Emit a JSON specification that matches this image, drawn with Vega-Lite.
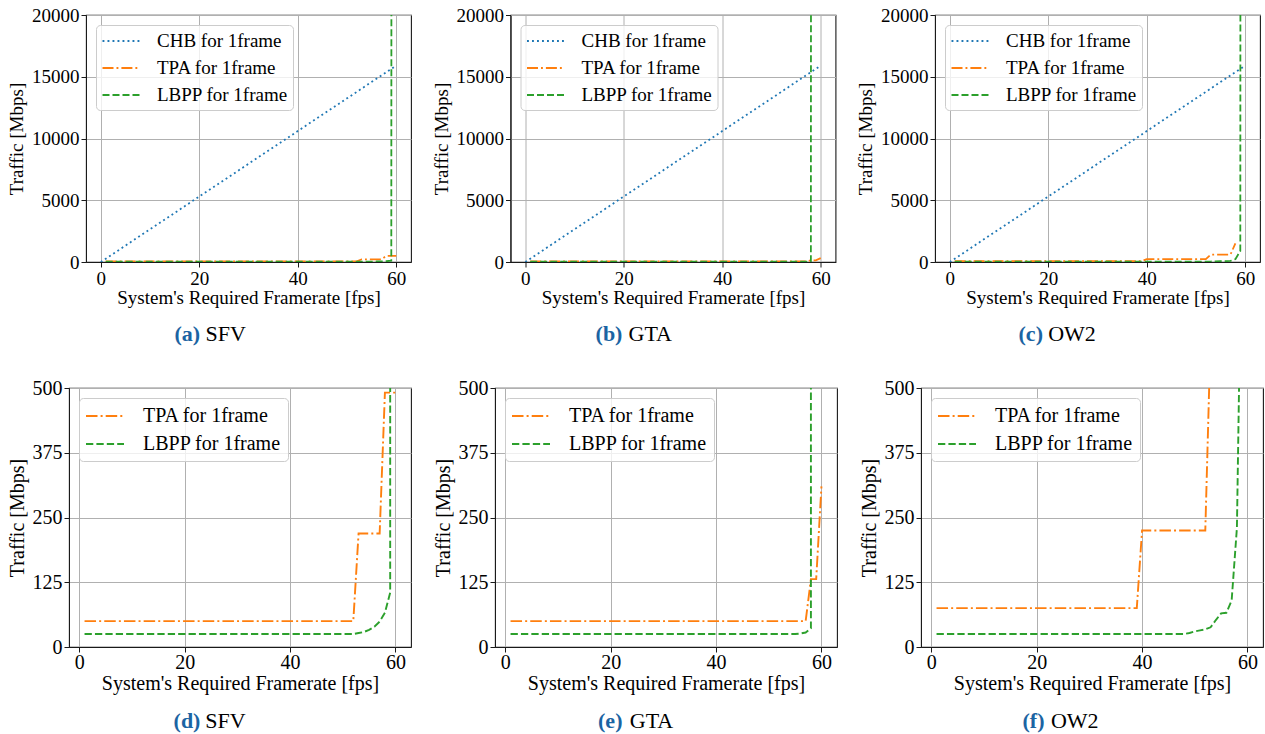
{
  "$schema": "https://vega.github.io/schema/vega-lite/v6.json",
  "background": "white",
  "padding": {"left": 6, "top": 5, "right": 0, "bottom": 0},
  "config": {
    "font": "Liberation Serif",
    "view": {"stroke": "#1a1a1a", "strokeWidth": 1.1},
    "axis": {"labelFont": "Liberation Serif", "titleFont": "Liberation Serif", "labelColor": "black", "titleColor": "black", "titleFontWeight": "normal", "gridColor": "#b0b0b0", "gridWidth": 1, "tickColor": "#1a1a1a", "tickSize": 5, "domainColor": "#1a1a1a", "labelPadding": 2, "labelFlush": false, "labelOverlap": false},
    "axisY": {"titlePadding": 5},
    "legend": {"labelFont": "Liberation Serif", "labelColor": "black", "fillColor": "rgba(255,255,255,0.8)", "strokeColor": "#cccccc", "cornerRadius": 4, "labelLimit": 300, "orient": "top-left", "offset": 10},
    "title": {"font": "Liberation Serif", "subtitleFont": "Liberation Serif", "fontSize": 22, "subtitleFontSize": 22, "fontWeight": "bold", "subtitleFontWeight": "normal", "color": "#1b64a3", "subtitleColor": "black", "subtitlePadding": -22, "orient": "bottom", "anchor": "middle", "frame": "bounds"}
  },
  "data": {"values": [
    {"game": "all", "series": "CHB", "fps": 0, "traffic": 0},
    {"game": "all", "series": "CHB", "fps": 10, "traffic": 2650},
    {"game": "all", "series": "CHB", "fps": 20, "traffic": 5300},
    {"game": "all", "series": "CHB", "fps": 30, "traffic": 7950},
    {"game": "all", "series": "CHB", "fps": 40, "traffic": 10600},
    {"game": "all", "series": "CHB", "fps": 50, "traffic": 13250},
    {"game": "all", "series": "CHB", "fps": 60, "traffic": 15900},
    {"game": "SFV", "series": "TPA", "fps": 1, "traffic": 50},
    {"game": "SFV", "series": "TPA", "fps": 52, "traffic": 50},
    {"game": "SFV", "series": "TPA", "fps": 53, "traffic": 219},
    {"game": "SFV", "series": "TPA", "fps": 57, "traffic": 219},
    {"game": "SFV", "series": "TPA", "fps": 58, "traffic": 491},
    {"game": "SFV", "series": "TPA", "fps": 59, "traffic": 491},
    {"game": "SFV", "series": "TPA", "fps": 60, "traffic": 491},
    {"game": "SFV", "series": "LBPP", "fps": 1, "traffic": 25},
    {"game": "SFV", "series": "LBPP", "fps": 52, "traffic": 25},
    {"game": "SFV", "series": "LBPP", "fps": 53, "traffic": 27},
    {"game": "SFV", "series": "LBPP", "fps": 54, "traffic": 29},
    {"game": "SFV", "series": "LBPP", "fps": 55, "traffic": 33},
    {"game": "SFV", "series": "LBPP", "fps": 56, "traffic": 39},
    {"game": "SFV", "series": "LBPP", "fps": 57, "traffic": 49},
    {"game": "SFV", "series": "LBPP", "fps": 58, "traffic": 66},
    {"game": "SFV", "series": "LBPP", "fps": 59, "traffic": 105},
    {"game": "SFV", "series": "LBPP", "fps": 60, "traffic": 1000000},
    {"game": "GTA", "series": "TPA", "fps": 1, "traffic": 50},
    {"game": "GTA", "series": "TPA", "fps": 57, "traffic": 50},
    {"game": "GTA", "series": "TPA", "fps": 58, "traffic": 131},
    {"game": "GTA", "series": "TPA", "fps": 59, "traffic": 131},
    {"game": "GTA", "series": "TPA", "fps": 60, "traffic": 310},
    {"game": "GTA", "series": "LBPP", "fps": 1, "traffic": 25},
    {"game": "GTA", "series": "LBPP", "fps": 55, "traffic": 25},
    {"game": "GTA", "series": "LBPP", "fps": 56, "traffic": 26},
    {"game": "GTA", "series": "LBPP", "fps": 57, "traffic": 28},
    {"game": "GTA", "series": "LBPP", "fps": 58, "traffic": 36},
    {"game": "GTA", "series": "LBPP", "fps": 59, "traffic": 1000000},
    {"game": "OW2", "series": "TPA", "fps": 1, "traffic": 75},
    {"game": "OW2", "series": "TPA", "fps": 39, "traffic": 75},
    {"game": "OW2", "series": "TPA", "fps": 40, "traffic": 225},
    {"game": "OW2", "series": "TPA", "fps": 52, "traffic": 225},
    {"game": "OW2", "series": "TPA", "fps": 53, "traffic": 600},
    {"game": "OW2", "series": "TPA", "fps": 57, "traffic": 600},
    {"game": "OW2", "series": "TPA", "fps": 58, "traffic": 1500},
    {"game": "OW2", "series": "LBPP", "fps": 1, "traffic": 25},
    {"game": "OW2", "series": "LBPP", "fps": 48, "traffic": 25},
    {"game": "OW2", "series": "LBPP", "fps": 49, "traffic": 27},
    {"game": "OW2", "series": "LBPP", "fps": 50, "traffic": 30},
    {"game": "OW2", "series": "LBPP", "fps": 51, "traffic": 32},
    {"game": "OW2", "series": "LBPP", "fps": 52, "traffic": 34},
    {"game": "OW2", "series": "LBPP", "fps": 53, "traffic": 38},
    {"game": "OW2", "series": "LBPP", "fps": 54, "traffic": 52},
    {"game": "OW2", "series": "LBPP", "fps": 55, "traffic": 65},
    {"game": "OW2", "series": "LBPP", "fps": 56, "traffic": 66},
    {"game": "OW2", "series": "LBPP", "fps": 57, "traffic": 90},
    {"game": "OW2", "series": "LBPP", "fps": 58, "traffic": 230},
    {"game": "OW2", "series": "LBPP", "fps": 59, "traffic": 900},
    {"game": "OW2", "series": "LBPP", "fps": 60, "traffic": 1000000}
  ]},
  "spacing": 31,
  "resolve": {"scale": {"color": "independent", "strokeDash": "independent"}},
  "vconcat": [
    {
      "spacing": -64,
      "resolve": {"scale": {"color": "independent", "strokeDash": "independent"}},
      "hconcat": [
        {
          "width": 1, "height": 1,
          "view": {"stroke": null},
          "mark": {"type": "rule", "opacity": 0},
          "encoding": {}
        },
        {
          "spacing": 18.5,
          "resolve": {"scale": {"color": "independent", "strokeDash": "independent"}},
          "hconcat": [
            {
              "width": 325, "height": 247,
              "transform": [{"filter": "datum.game == 'SFV' || datum.game == 'all'"}],
              "mark": {"type": "line", "clip": true, "strokeWidth": 1.8},
              "encoding": {
                "x": {"field": "fps", "type": "quantitative", "scale": {"domain": [-3, 63], "nice": false, "zero": false}, "axis": {"values": [0, 20, 40, 60], "title": "System's Required Framerate [fps]", "labelFontSize": 19, "titleFontSize": 19, "titlePadding": 0.5}},
                "y": {"field": "traffic", "type": "quantitative", "scale": {"domain": [0, 20000], "nice": false, "zero": false}, "axis": {"values": [0, 5000, 10000, 15000, 20000], "format": "d", "title": "Traffic [Mbps]", "labelFontSize": 19, "titleFontSize": 19}},
                "color": {"field": "series", "type": "nominal", "scale": {"domain": ["CHB", "TPA", "LBPP"], "range": ["#1f77b4", "#ff7f0e", "#2ca02c"]}, "legend": {"title": null, "labelExpr": "datum.label + ' for 1frame'", "symbolType": "M-1.85,0H1.85", "symbolSize": 400, "symbolStrokeWidth": 1.8, "labelFontSize": 19, "padding": 5, "rowPadding": 6, "symbolOffset": 9, "labelOffset": 25}},
                "strokeDash": {"field": "series", "type": "nominal", "scale": {"domain": ["CHB", "TPA", "LBPP"], "range": [[1.9, 3.1], [11, 3, 1.9, 3], [7, 3]]}, "legend": {"title": null, "labelExpr": "datum.label + ' for 1frame'", "symbolType": "M-1.85,0H1.85", "symbolSize": 400, "symbolStrokeWidth": 1.8, "labelFontSize": 19, "padding": 5, "rowPadding": 6, "symbolOffset": 9, "labelOffset": 25}}
              },
              "title": {"text": "(a)\u00a0\u00a0\u00a0\u00a0\u00a0\u00a0\u00a0\u00a0\u200b", "subtitle": "\u200b\u00a0\u00a0\u00a0\u00a0\u00a0\u00a0SFV", "offset": 16.5}
            },
            {
              "width": 325, "height": 247,
              "transform": [{"filter": "datum.game == 'GTA' || datum.game == 'all'"}],
              "mark": {"type": "line", "clip": true, "strokeWidth": 1.8},
              "encoding": {
                "x": {"field": "fps", "type": "quantitative", "scale": {"domain": [-3, 63], "nice": false, "zero": false}, "axis": {"values": [0, 20, 40, 60], "title": "System's Required Framerate [fps]", "labelFontSize": 19, "titleFontSize": 19, "titlePadding": 0.5}},
                "y": {"field": "traffic", "type": "quantitative", "scale": {"domain": [0, 20000], "nice": false, "zero": false}, "axis": {"values": [0, 5000, 10000, 15000, 20000], "format": "d", "title": "Traffic [Mbps]", "labelFontSize": 19, "titleFontSize": 19}},
                "color": {"field": "series", "type": "nominal", "scale": {"domain": ["CHB", "TPA", "LBPP"], "range": ["#1f77b4", "#ff7f0e", "#2ca02c"]}, "legend": {"title": null, "labelExpr": "datum.label + ' for 1frame'", "symbolType": "M-1.85,0H1.85", "symbolSize": 400, "symbolStrokeWidth": 1.8, "labelFontSize": 19, "padding": 5, "rowPadding": 6, "symbolOffset": 9, "labelOffset": 25}},
                "strokeDash": {"field": "series", "type": "nominal", "scale": {"domain": ["CHB", "TPA", "LBPP"], "range": [[1.9, 3.1], [11, 3, 1.9, 3], [7, 3]]}, "legend": {"title": null, "labelExpr": "datum.label + ' for 1frame'", "symbolType": "M-1.85,0H1.85", "symbolSize": 400, "symbolStrokeWidth": 1.8, "labelFontSize": 19, "padding": 5, "rowPadding": 6, "symbolOffset": 9, "labelOffset": 25}}
              },
              "title": {"text": "(b)\u00a0\u00a0\u00a0\u00a0\u00a0\u00a0\u00a0\u00a0\u00a0\u200b", "subtitle": "\u200b\u00a0\u00a0\u00a0\u00a0\u00a0\u00a0GTA", "offset": 16.5}
            },
            {
              "width": 325, "height": 247,
              "transform": [{"filter": "datum.game == 'OW2' || datum.game == 'all'"}],
              "mark": {"type": "line", "clip": true, "strokeWidth": 1.8},
              "encoding": {
                "x": {"field": "fps", "type": "quantitative", "scale": {"domain": [-3, 63], "nice": false, "zero": false}, "axis": {"values": [0, 20, 40, 60], "title": "System's Required Framerate [fps]", "labelFontSize": 19, "titleFontSize": 19, "titlePadding": 0.5}},
                "y": {"field": "traffic", "type": "quantitative", "scale": {"domain": [0, 20000], "nice": false, "zero": false}, "axis": {"values": [0, 5000, 10000, 15000, 20000], "format": "d", "title": "Traffic [Mbps]", "labelFontSize": 19, "titleFontSize": 19}},
                "color": {"field": "series", "type": "nominal", "scale": {"domain": ["CHB", "TPA", "LBPP"], "range": ["#1f77b4", "#ff7f0e", "#2ca02c"]}, "legend": {"title": null, "labelExpr": "datum.label + ' for 1frame'", "symbolType": "M-1.85,0H1.85", "symbolSize": 400, "symbolStrokeWidth": 1.8, "labelFontSize": 19, "padding": 5, "rowPadding": 6, "symbolOffset": 9, "labelOffset": 25}},
                "strokeDash": {"field": "series", "type": "nominal", "scale": {"domain": ["CHB", "TPA", "LBPP"], "range": [[1.9, 3.1], [11, 3, 1.9, 3], [7, 3]]}, "legend": {"title": null, "labelExpr": "datum.label + ' for 1frame'", "symbolType": "M-1.85,0H1.85", "symbolSize": 400, "symbolStrokeWidth": 1.8, "labelFontSize": 19, "padding": 5, "rowPadding": 6, "symbolOffset": 9, "labelOffset": 25}}
              },
              "title": {"text": "(c)\u00a0\u00a0\u00a0\u00a0\u00a0\u00a0\u00a0\u00a0\u00a0\u00a0\u200b", "subtitle": "\u200b\u00a0\u00a0\u00a0\u00a0\u00a0OW2", "offset": 16.5}
            }
          ]
        }
      ]
    },
    {
      "spacing": 20,
      "resolve": {"scale": {"color": "independent", "strokeDash": "independent"}},
      "hconcat": [
        {
          "width": 342, "height": 259,
          "transform": [{"filter": "datum.game == 'SFV'"}],
          "mark": {"type": "line", "clip": true, "strokeWidth": 1.9},
          "encoding": {
            "x": {"field": "fps", "type": "quantitative", "scale": {"domain": [-1.95, 62.95], "nice": false, "zero": false}, "axis": {"values": [0, 20, 40, 60], "title": "System's Required Framerate [fps]", "labelFontSize": 20, "titleFontSize": 20, "labelPadding": 0, "titlePadding": 1}},
            "y": {"field": "traffic", "type": "quantitative", "scale": {"domain": [0, 500], "nice": false, "zero": false}, "axis": {"values": [0, 125, 250, 375, 500], "format": "d", "title": "Traffic [Mbps]", "labelFontSize": 20, "titleFontSize": 20}},
            "color": {"field": "series", "type": "nominal", "scale": {"domain": ["TPA", "LBPP"], "range": ["#ff7f0e", "#2ca02c"]}, "legend": {"title": null, "labelExpr": "datum.label + ' for 1frame'", "symbolType": "M-1.9,0H1.9", "symbolSize": 400, "symbolStrokeWidth": 1.9, "labelFontSize": 20, "padding": 7, "rowPadding": 7, "symbolOffset": 8, "labelOffset": 27}},
            "strokeDash": {"field": "series", "type": "nominal", "scale": {"domain": ["TPA", "LBPP"], "range": [[11.5, 3.1, 2, 3.1], [7.3, 3.1]]}, "legend": {"title": null, "labelExpr": "datum.label + ' for 1frame'", "symbolType": "M-1.9,0H1.9", "symbolSize": 400, "symbolStrokeWidth": 1.9, "labelFontSize": 20, "padding": 7, "rowPadding": 7, "symbolOffset": 8, "labelOffset": 27}}
          },
          "title": {"text": "(d)\u00a0\u00a0\u00a0\u00a0\u00a0\u00a0\u00a0\u00a0\u200b", "subtitle": "\u200b\u00a0\u00a0\u00a0\u00a0\u00a0\u00a0SFV", "offset": 17.5}
        },
        {
          "width": 342, "height": 259,
          "transform": [{"filter": "datum.game == 'GTA'"}],
          "mark": {"type": "line", "clip": true, "strokeWidth": 1.9},
          "encoding": {
            "x": {"field": "fps", "type": "quantitative", "scale": {"domain": [-1.95, 62.95], "nice": false, "zero": false}, "axis": {"values": [0, 20, 40, 60], "title": "System's Required Framerate [fps]", "labelFontSize": 20, "titleFontSize": 20, "labelPadding": 0, "titlePadding": 1}},
            "y": {"field": "traffic", "type": "quantitative", "scale": {"domain": [0, 500], "nice": false, "zero": false}, "axis": {"values": [0, 125, 250, 375, 500], "format": "d", "title": "Traffic [Mbps]", "labelFontSize": 20, "titleFontSize": 20}},
            "color": {"field": "series", "type": "nominal", "scale": {"domain": ["TPA", "LBPP"], "range": ["#ff7f0e", "#2ca02c"]}, "legend": {"title": null, "labelExpr": "datum.label + ' for 1frame'", "symbolType": "M-1.9,0H1.9", "symbolSize": 400, "symbolStrokeWidth": 1.9, "labelFontSize": 20, "padding": 7, "rowPadding": 7, "symbolOffset": 8, "labelOffset": 27}},
            "strokeDash": {"field": "series", "type": "nominal", "scale": {"domain": ["TPA", "LBPP"], "range": [[11.5, 3.1, 2, 3.1], [7.3, 3.1]]}, "legend": {"title": null, "labelExpr": "datum.label + ' for 1frame'", "symbolType": "M-1.9,0H1.9", "symbolSize": 400, "symbolStrokeWidth": 1.9, "labelFontSize": 20, "padding": 7, "rowPadding": 7, "symbolOffset": 8, "labelOffset": 27}}
          },
          "title": {"text": "(e)\u00a0\u00a0\u00a0\u00a0\u00a0\u00a0\u00a0\u00a0\u00a0\u200b", "subtitle": "\u200b\u00a0\u00a0\u00a0\u00a0\u00a0\u00a0GTA", "offset": 17.5}
        },
        {
          "width": 342, "height": 259,
          "transform": [{"filter": "datum.game == 'OW2'"}],
          "mark": {"type": "line", "clip": true, "strokeWidth": 1.9},
          "encoding": {
            "x": {"field": "fps", "type": "quantitative", "scale": {"domain": [-1.95, 62.95], "nice": false, "zero": false}, "axis": {"values": [0, 20, 40, 60], "title": "System's Required Framerate [fps]", "labelFontSize": 20, "titleFontSize": 20, "labelPadding": 0, "titlePadding": 1}},
            "y": {"field": "traffic", "type": "quantitative", "scale": {"domain": [0, 500], "nice": false, "zero": false}, "axis": {"values": [0, 125, 250, 375, 500], "format": "d", "title": "Traffic [Mbps]", "labelFontSize": 20, "titleFontSize": 20}},
            "color": {"field": "series", "type": "nominal", "scale": {"domain": ["TPA", "LBPP"], "range": ["#ff7f0e", "#2ca02c"]}, "legend": {"title": null, "labelExpr": "datum.label + ' for 1frame'", "symbolType": "M-1.9,0H1.9", "symbolSize": 400, "symbolStrokeWidth": 1.9, "labelFontSize": 20, "padding": 7, "rowPadding": 7, "symbolOffset": 8, "labelOffset": 27}},
            "strokeDash": {"field": "series", "type": "nominal", "scale": {"domain": ["TPA", "LBPP"], "range": [[11.5, 3.1, 2, 3.1], [7.3, 3.1]]}, "legend": {"title": null, "labelExpr": "datum.label + ' for 1frame'", "symbolType": "M-1.9,0H1.9", "symbolSize": 400, "symbolStrokeWidth": 1.9, "labelFontSize": 20, "padding": 7, "rowPadding": 7, "symbolOffset": 8, "labelOffset": 27}}
          },
          "title": {"text": "(f)\u00a0\u00a0\u00a0\u00a0\u00a0\u00a0\u00a0\u00a0\u00a0\u00a0\u200b", "subtitle": "\u200b\u00a0\u00a0\u00a0\u00a0\u00a0OW2", "offset": 17.5}
        }
      ]
    }
  ]
}
